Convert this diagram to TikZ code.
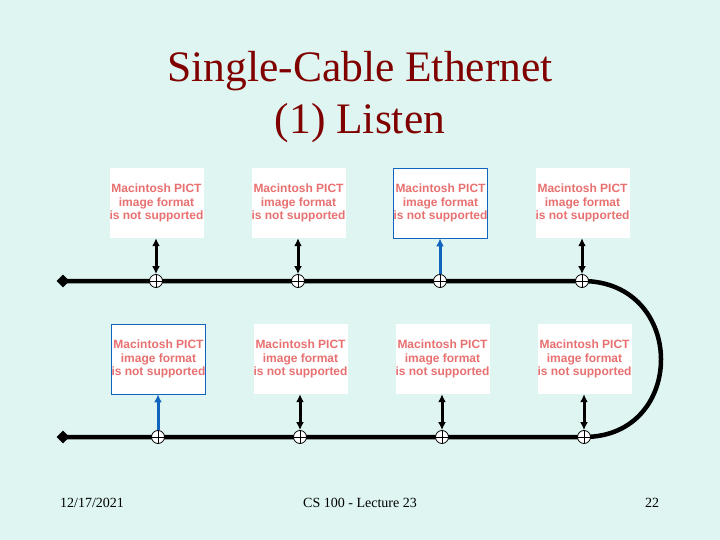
\documentclass[tikz,border=0pt]{standalone}
\usepackage{fontspec}
\setmainfont{Liberation Serif}
\newfontfamily\pictfont{Liberation Sans}
\usetikzlibrary{arrows.meta,shapes.geometric}
\definecolor{slidebg}{RGB}{222,245,241}
\definecolor{titlered}{RGB}{128,0,0}
\definecolor{pictred}{RGB}{232,112,112}
\definecolor{linkblue}{RGB}{16,100,190}
\newcommand{\pictmsg}{Macintosh PICT\\image format\\is not supported}
\begin{document}
\begin{tikzpicture}[
    x=1pt,y=-1pt,
    every node/.style={inner sep=0pt},
    pict/.style={fill=white, minimum width=93pt, minimum height=70pt, align=center,
        text=pictred, font=\pictfont\bfseries\fontsize{12}{13.5}\selectfont},
    active/.style={pict, draw=linkblue, line width=0.8pt},
    tap/.style={circle, draw=black, fill=white, line width=0.8pt, minimum size=13pt,
        path picture={\draw[line width=0.8pt]
            (path picture bounding box.north) -- (path picture bounding box.south)
            (path picture bounding box.west) -- (path picture bounding box.east);}},
    term/.style={diamond, fill=black, minimum size=13pt},
    cable/.style={line width=4.5pt, draw=black},
    xfer/.style={{Latex[length=8pt,width=8pt]}-{Latex[length=8pt,width=8pt]}, line width=3pt},
    listen/.style={-{Latex[length=8pt,width=8pt]}, line width=3pt, draw=linkblue}
]
    \fill[slidebg] (0,0) rectangle (720,540);

    % title
    \node[text=titlered, align=center, font=\fontsize{43.5}{52}\selectfont] (title) at (360,97)
        {Single-Cable Ethernet\\(1) Listen};

    % stations
    \node[pict] (box1) at (156.5,203) {\pictmsg};
    \node[pict] (box2) at (298.5,203) {\pictmsg};
    \node[active] (box3) at (440.5,203) {\pictmsg};
    \node[pict] (box4) at (582.5,203) {\pictmsg};
    \node[active] (box5) at (158.5,359) {\pictmsg};
    \node[pict] (box6) at (300.5,359) {\pictmsg};
    \node[pict] (box7) at (442.5,359) {\pictmsg};
    \node[pict] (box8) at (584.5,359) {\pictmsg};

    % cable
    \node[term] (endA) at (63,281) {};
    \node[term] (endB) at (63,437) {};
    \coordinate (c1) at (156,281);
    \coordinate (c2) at (298,281);
    \coordinate (c3) at (440,281);
    \coordinate (c4) at (582,281);
    \coordinate (c5) at (158,437);
    \coordinate (c6) at (300,437);
    \coordinate (c7) at (442,437);
    \coordinate (c8) at (584,437);
    \draw[cable] (endA.center) -- (c4) .. controls (687,281) and (687,437) .. (c8) -- (endB.center);

    \foreach \i in {1,...,8} {
        \node[tap] (tap\i) at (c\i) {};
    }

    % transceiver links
    \foreach \i in {1,2,4,6,7,8} {
        \draw[xfer] (tap\i.north |- box\i.south) -- (tap\i.north);
    }
    \foreach \i in {3,5} {
        \draw[listen] (tap\i.north) -- (tap\i.north |- box\i.south);
    }

    % footer
    \node[font=\fontsize{14}{16}\selectfont] (date) at (92,503) {12/17/2021};
    \node[font=\fontsize{14}{16}\selectfont] (course) at (360,503) {CS 100 - Lecture 23};
    \node[font=\fontsize{14}{16}\selectfont] (page) at (652,503) {22};
\end{tikzpicture}
\end{document}
